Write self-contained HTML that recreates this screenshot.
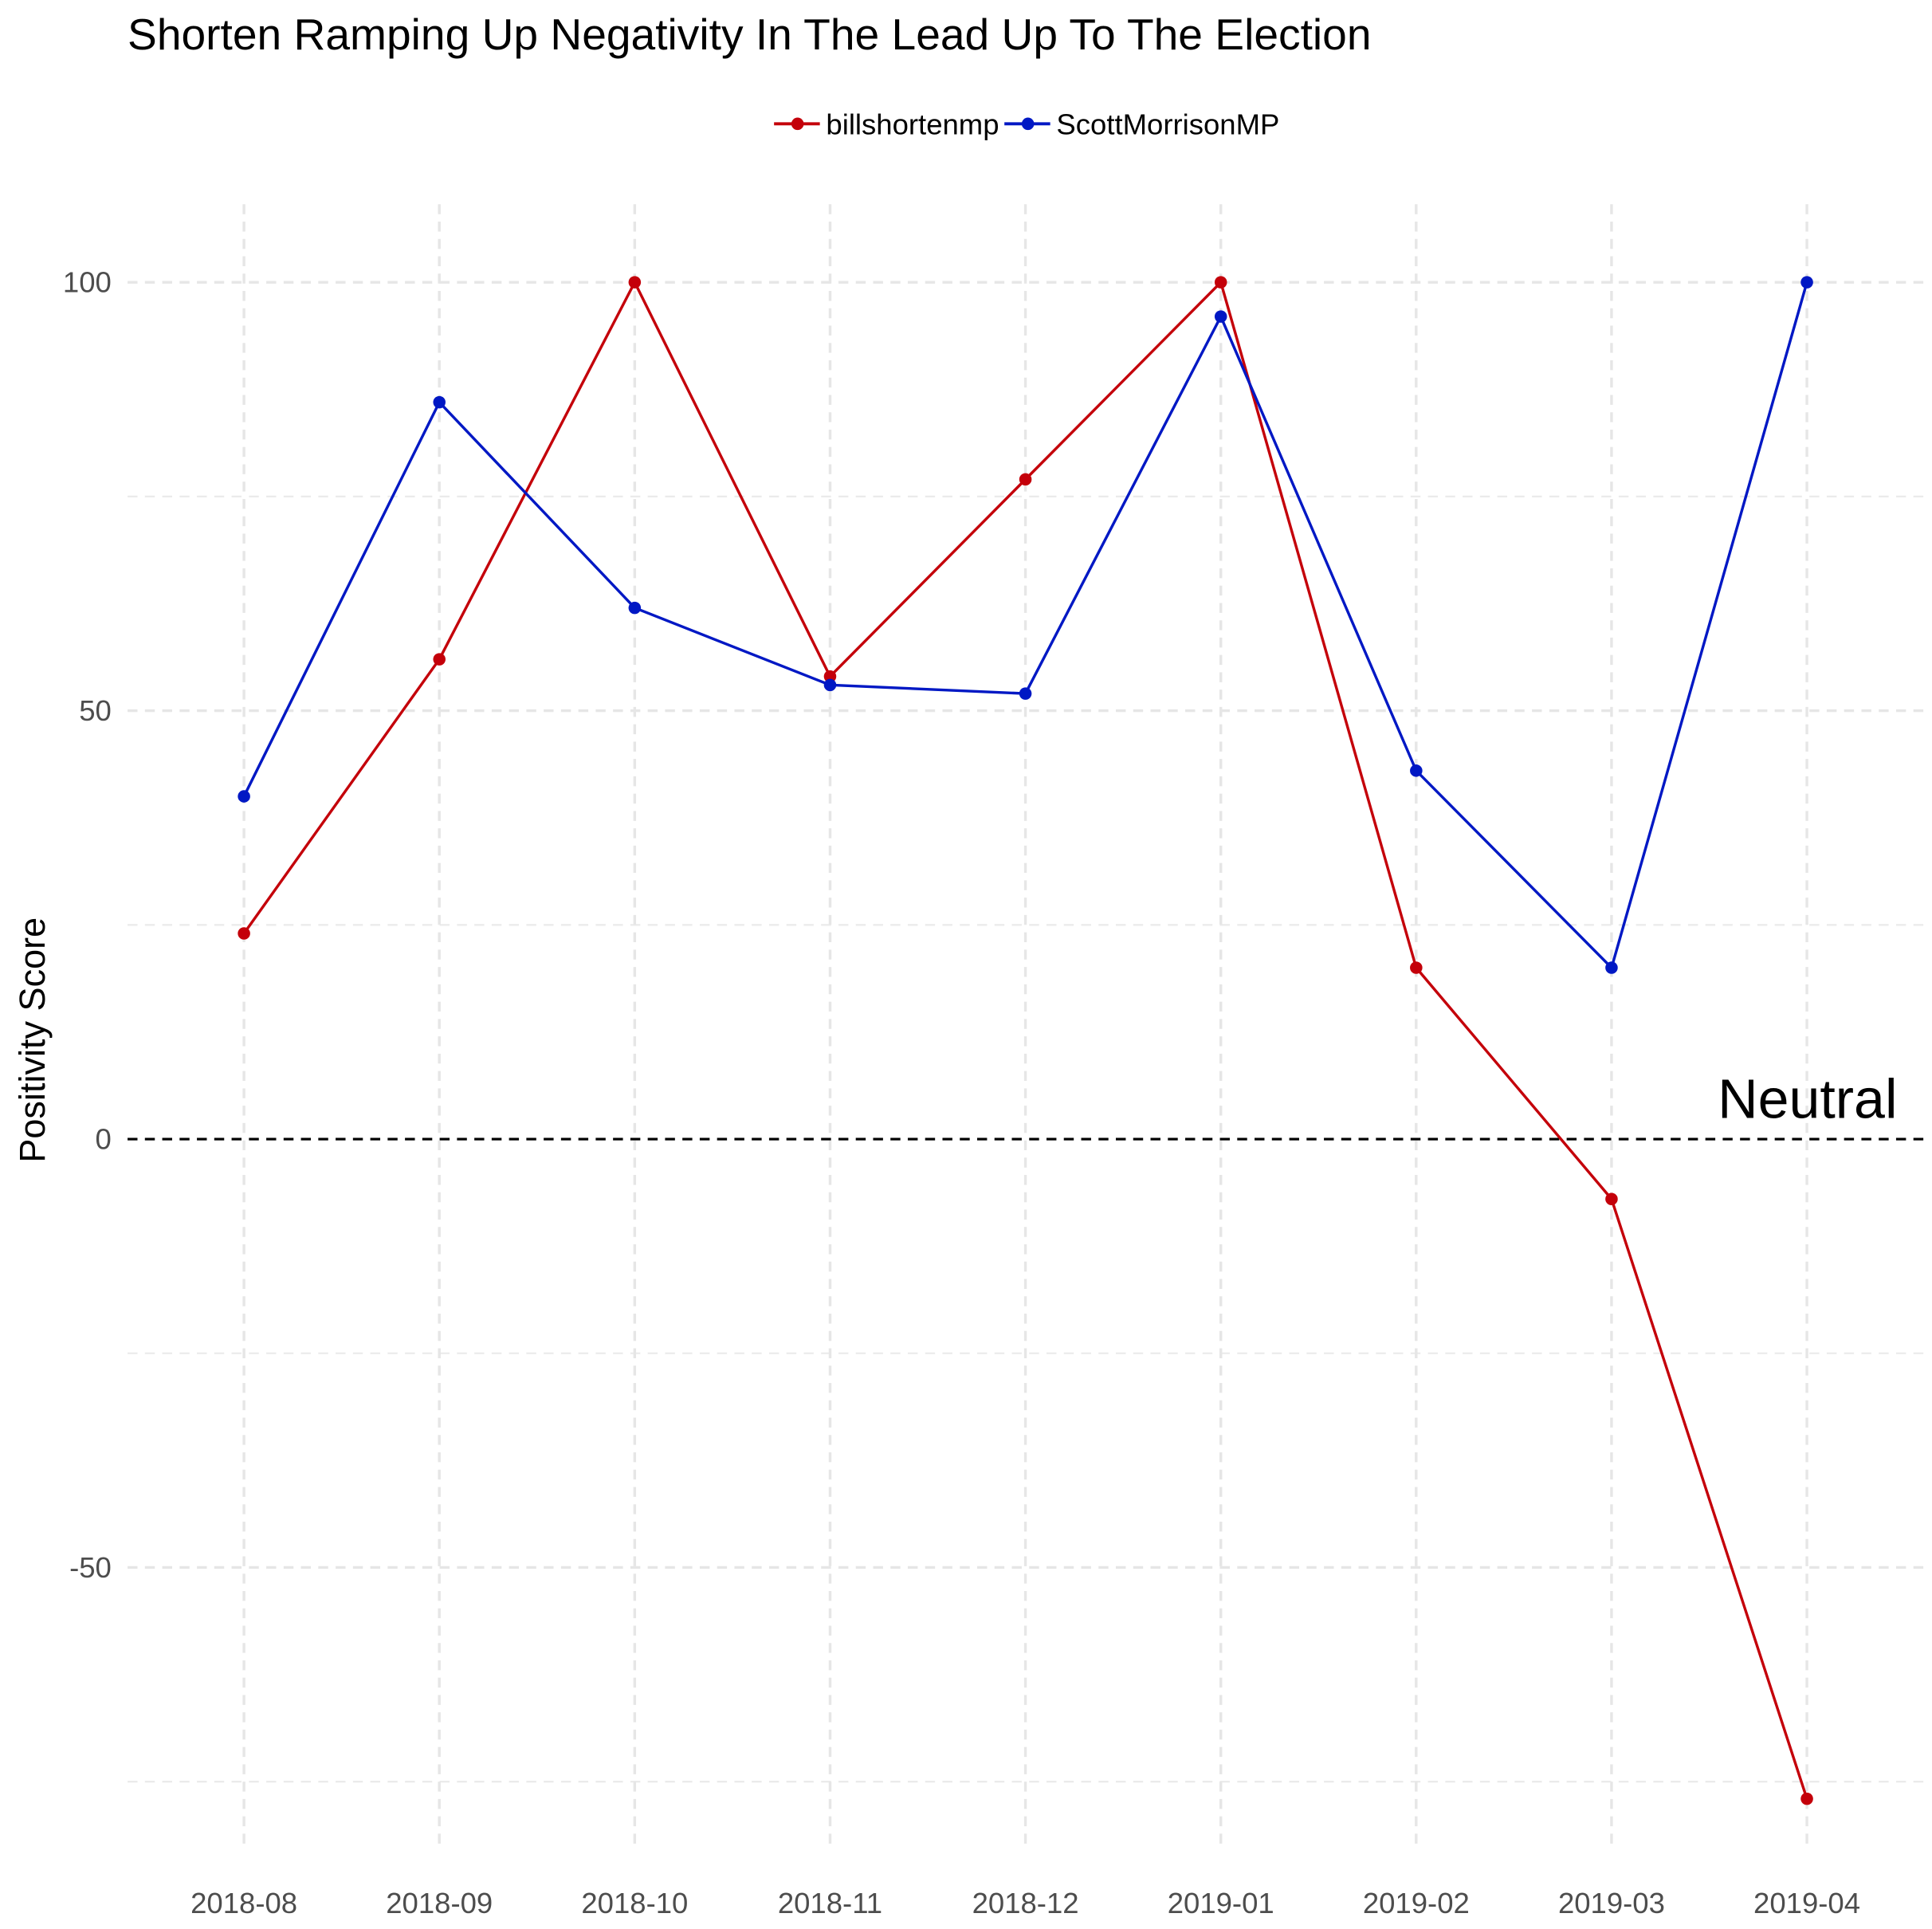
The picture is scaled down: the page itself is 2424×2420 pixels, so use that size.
<!DOCTYPE html>
<html><head><meta charset="utf-8"><style>
html,body{margin:0;padding:0;background:#fff;}
svg{display:block;font-family:"Liberation Sans",Arial,sans-serif;}
</style></head><body>
<svg id="chart" width="2424" height="2420" viewBox="0 0 1560 1558" preserveAspectRatio="none" xmlns="http://www.w3.org/2000/svg">
<text x="103" y="40" font-size="35.5" fill="#000">Shorten Ramping Up Negativity In The Lead Up To The Election</text>
<g>
  <g>
    <line x1="625" y1="100" x2="662" y2="100" stroke="#c4000a" stroke-width="2.5"/>
    <circle cx="644" cy="100" r="5" fill="#c4000a"/>
    <text x="667" y="108.5" font-size="23.5">billshortenmp</text>
  </g>
  <g>
    <line x1="811" y1="100" x2="848" y2="100" stroke="#0018c4" stroke-width="2.5"/>
    <circle cx="830" cy="100" r="5" fill="#0018c4"/>
    <text x="853" y="108.5" font-size="23.5">ScottMorrisonMP</text>
  </g>
</g>
<g id="grid"></g>
<g id="axes"></g>
<line id="zeroline" x1="103" x2="1555" stroke="#000" stroke-width="2" stroke-dasharray="8,6"/>
<text id="neutral" x="1532" text-anchor="end" font-size="45">Neutral</text>
<g id="series"></g>
<text transform="translate(36,840) rotate(-90)" text-anchor="middle" font-size="29">Positivity Score</text>
</svg>
<script>
const categories = ["2018-08","2018-09","2018-10","2018-11","2018-12","2019-01","2019-02","2019-03","2019-04"];
const shortenValues = [24,56,100,54,77,100,20,-7,-77];
const morrisonValues = [40,86,62,53,52,96,43,20,100];
const yTicks = [100,50,0,-50];
const yMinor = [75,25,-25,-75];

const NS="http://www.w3.org/2000/svg";
function xs(i){return 197+i*157.75;}
function ys(v){return 920-v*6.92;}
function mk(tag,attrs,parent){const e=document.createElementNS(NS,tag);for(const k in attrs)e.setAttribute(k,attrs[k]);parent.appendChild(e);return e;}
const grid=document.getElementById('grid'),axes=document.getElementById('axes'),series=document.getElementById('series');
yMinor.forEach(v=>{const l=mk('line',{x1:103,x2:1555,y1:ys(v),y2:ys(v),stroke:'#ebebeb','stroke-width':1.5,'stroke-dasharray':'8,6'},grid);

});
yTicks.forEach(v=>{const l=mk('line',{x1:103,x2:1555,y1:ys(v),y2:ys(v),stroke:'#e6e6e6','stroke-width':2.2,'stroke-dasharray':'8,6'},grid);


const t=mk('text',{x:90,y:ys(v)+8,'text-anchor':'end','font-size':23.5,fill:'#4d4d4d'},axes);t.textContent=v;

});
categories.forEach((c,i)=>{const l=mk('line',{x1:xs(i),x2:xs(i),y1:165,y2:1492,stroke:'#e6e6e6','stroke-width':2.2,'stroke-dasharray':'8,6'},grid);


const t=mk('text',{x:xs(i),y:1545,'text-anchor':'middle','font-size':23.5,fill:'#4d4d4d'},axes);t.textContent=c;

});
const z=document.getElementById('zeroline');z.setAttribute('y1',ys(0));z.setAttribute('y2',ys(0));
document.getElementById('neutral').setAttribute('y',ys(0)-17);
function draw(vals,color,name){
  const p=mk('polyline',{points:vals.map((v,i)=>xs(i)+','+ys(v)).join(' '),fill:'none',stroke:color,'stroke-width':2.2},series);
  
  
  vals.forEach((v,i)=>{const c=mk('circle',{cx:xs(i),cy:ys(v),r:5,fill:color},series);
  
  });
}
draw(shortenValues,'#c4000a','billshortenmp');
draw(morrisonValues,'#0018c4','scottmorrisonmp');
</script>
</body></html>
